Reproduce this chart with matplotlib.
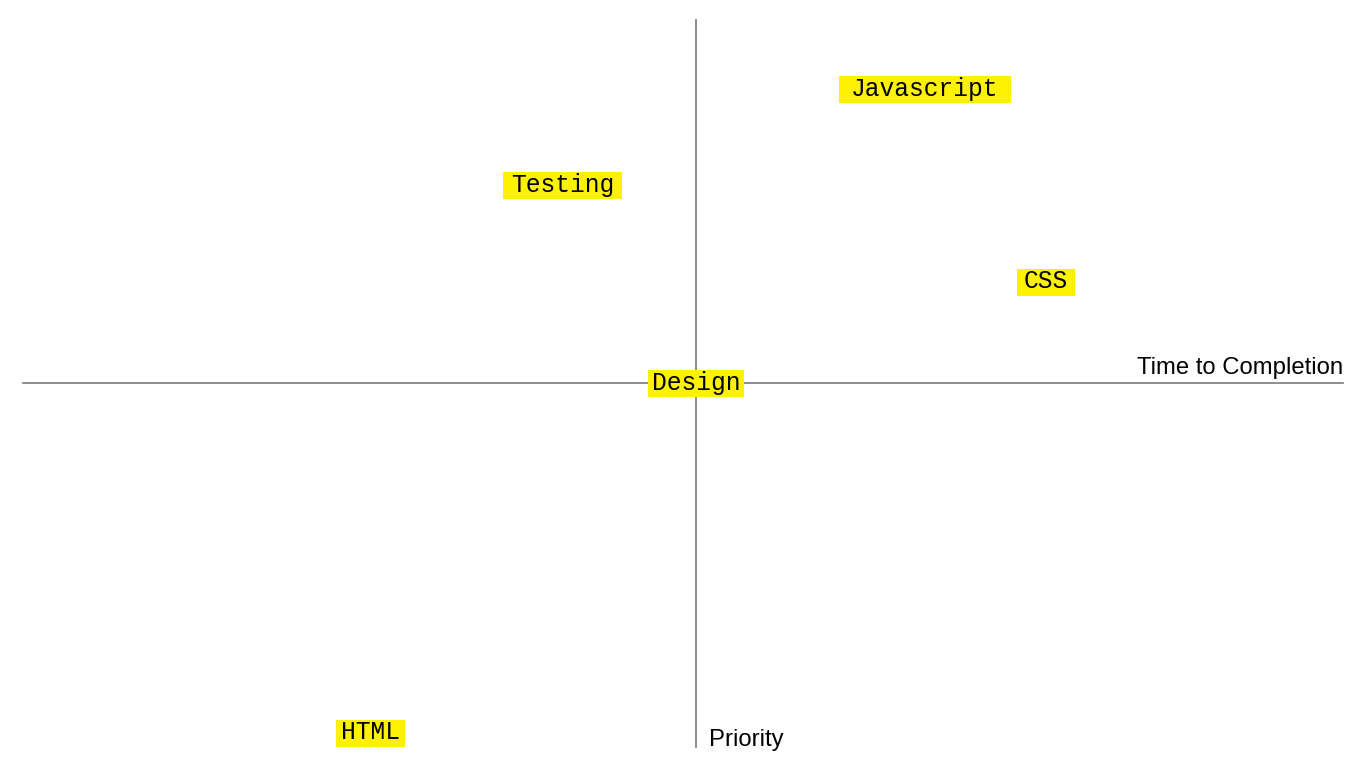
import matplotlib
matplotlib.use("Agg")
import matplotlib.pyplot as plt
from matplotlib.patches import Rectangle
from matplotlib.transforms import IdentityTransform

# Data
labels = ["Javascript", "Testing", "CSS", "Design", "HTML"]
time_to_completion = [3.4, -1.98, 5.2, 0.0, -4.83]
priority = [8.08, 5.44, 2.8, 0.0, -9.6]

x_axis_min, x_axis_max = -10.0, 9.61
y_axis_min, y_axis_max = -10.0, 9.97
x_label = "Time to Completion"
y_label = "Priority"

# Style: horizontal padding of each highlight box (pixels)
box_hpad = [12, 8, 7, 4, 5]
box_height = 27

fig = plt.figure(figsize=(13.66, 7.68), dpi=100)
ax = fig.add_axes([0, 0, 1, 1])
ax.set_xlim(-10.342, 9.955)
ax.set_ylim(-10.577, 10.522)
ax.axis("off")

axis_color = "#7a7a7a"
ax.plot([x_axis_min, x_axis_max], [0, 0], color=axis_color, lw=1.2, zorder=1)
ax.plot([0, 0], [y_axis_min, y_axis_max], color=axis_color, lw=1.2, zorder=1)

ax.text(x_axis_max, 0.1, x_label, ha="right", va="bottom",
        fontsize=17.2, family="Liberation Sans", color="black")
ax.text(0.2, -9.8, y_label, ha="left", va="center",
        fontsize=17.2, family="Liberation Sans", color="black")

texts = []
for lab, x, y in zip(labels, time_to_completion, priority):
    t = ax.text(x, y, lab, ha="center", va="center", fontsize=17.7,
                family="Liberation Mono", weight="normal", color="black",
                zorder=3)
    texts.append(t)

fig.canvas.draw()
renderer = fig.canvas.get_renderer()
for t, x, y, hp in zip(texts, time_to_completion, priority, box_hpad):
    ext = t.get_window_extent(renderer)
    cx, cy = ax.transData.transform((x, y))
    w = ext.width + 2 * hp
    rect = Rectangle((cx - w / 2, cy - 1 - box_height / 2), w, box_height,
                     transform=IdentityTransform(), facecolor="#fff200",
                     edgecolor="none", zorder=2)
    ax.add_artist(rect)

fig.savefig("out.png", dpi=100, facecolor="white")
